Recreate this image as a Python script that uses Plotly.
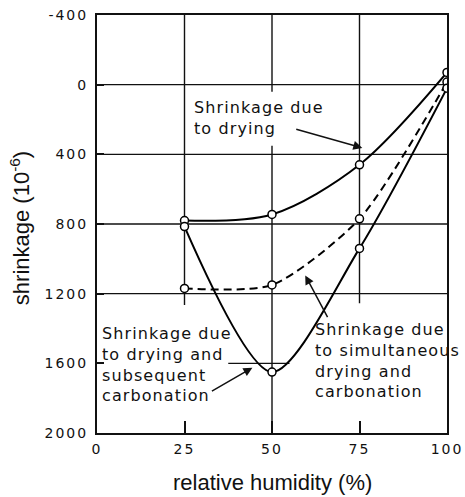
import plotly.graph_objects as go

# ---- data ----
rh = [25, 50, 75, 100]
drying = [780, 745, 460, -70]
simultaneous = [1170, 1150, 770, -15]
subsequent = [815, 1650, 940, 20]

x_ticks = [0, 25, 50, 75, 100]
x_ticktext = ["0", "25", "50", "75", "100"]
y_ticks = [-400, 0, 400, 800, 1200, 1600, 2000]
y_ticktext = ["-400", "0", "400", "800", "1200", "1600", "2000"]

label_drying = "Shrinkage due<br>to drying"
label_subsequent = "Shrinkage due<br>to drying and<br>subsequent<br>carbonation"
label_simultaneous = "Shrinkage due<br>to simultaneous<br>drying and<br>carbonation"

LS = "letter-spacing:1.1px"
TS = "letter-spacing:2px"

def sp(t, style):
    return "<br>".join(f'<span style="{style}">{p}</span>' for p in t.split("<br>"))

fig = go.Figure()

marker = dict(symbol="circle", size=8, color="white", line=dict(color="black", width=1.5))

fig.add_trace(go.Scatter(x=rh, y=drying, mode="lines+markers", line=dict(color="black", width=2, shape="spline", smoothing=0.9), marker=marker, showlegend=False))
fig.add_trace(go.Scatter(x=rh, y=simultaneous, mode="lines+markers", line=dict(color="black", width=2, dash="8px,5px", shape="spline", smoothing=0.7), marker=marker, showlegend=False))
fig.add_trace(go.Scatter(x=rh, y=subsequent, mode="lines+markers", line=dict(color="black", width=2, shape="spline", smoothing=0.8), marker=marker, showlegend=False))

# grid lines (drawn with gaps around the labels, as in the original)
h_grid = [0, 400, 800, 1200]
v_grid = [(25, -400, 1265), (50, -400, 40), (50, 350, 2000), (75, -400, 1255)]
grid_style = dict(color="#111", width=1.4)
shapes = []
for yv in h_grid:
    shapes.append(dict(type="line", xref="x", yref="y", x0=0, x1=100, y0=yv, y1=yv, line=grid_style, layer="below"))
for xv, y0, y1 in v_grid:
    shapes.append(dict(type="line", xref="x", yref="y", x0=xv, x1=xv, y0=y0, y1=y1, line=grid_style, layer="below"))
# short leader line at 1600 near the minimum
shapes.append(dict(type="line", xref="x", yref="y", x0=37.5, x1=55, y0=1600, y1=1600, line=grid_style, layer="below"))

ann_font = dict(family="DejaVu Sans", size=16, color="#111")
annotations = [
    dict(x=27.2, y=65, xref="x", yref="y", text=sp(label_drying, LS), showarrow=False,
         xanchor="left", yanchor="top", align="left", font=ann_font, bgcolor="white"),
    dict(x=0.8, y=1360, xref="x", yref="y", text=sp(label_subsequent, LS), showarrow=False,
         xanchor="left", yanchor="top", align="left", font=ann_font),
    dict(x=61.8, y=1340, xref="x", yref="y", text=sp(label_simultaneous, LS), showarrow=False,
         xanchor="left", yanchor="top", align="left", font=ann_font),
    # arrows
    dict(x=75.8, y=363, ax=56.5, ay=254, xref="x", yref="y", axref="x", ayref="y", text="",
         showarrow=True, arrowhead=2, arrowsize=1.2, arrowwidth=1.5, arrowcolor="#111"),
    dict(x=44.4, y=1625, ax=32.4, ay=1764, xref="x", yref="y", axref="x", ayref="y", text="",
         showarrow=True, arrowhead=2, arrowsize=1.2, arrowwidth=1.5, arrowcolor="#111"),
    dict(x=59.5, y=1095, ax=66.1, ay=1343, xref="x", yref="y", axref="x", ayref="y", text="",
         showarrow=True, arrowhead=2, arrowsize=1.2, arrowwidth=1.5, arrowcolor="#111"),
    # axis titles
    dict(x=0.5, y=-0.083, xref="paper", yref="paper", text="relative humidity (%)", showarrow=False,
         xanchor="center", yanchor="top", font=dict(family="Liberation Sans", size=22, color="#111")),
    dict(x=-0.22, y=0.49, xref="paper", yref="paper", text="shrinkage (10<sup>-6</sup>)", showarrow=False,
         textangle=-90, xanchor="center", yanchor="middle", font=dict(family="Liberation Sans", size=22, color="#111")),
]

fig.update_layout(
    width=465, height=497,
    margin=dict(l=97, r=18, t=15, b=64, autoexpand=False),
    paper_bgcolor="white", plot_bgcolor="white",
    shapes=shapes, annotations=annotations,
    showlegend=False,
)
fig.update_xaxes(range=[0, 100], showgrid=False, zeroline=False, showline=True, mirror=True, automargin=False,
                 linecolor="#111", linewidth=2, ticks="inside", ticklen=12, tickwidth=1.5, tickcolor="#111",
                 tickvals=x_ticks, ticktext=[sp(t, TS) for t in x_ticktext], ticklabelstandoff=2,
                 tickfont=dict(family="DejaVu Sans", size=14, color="#111"))
fig.update_yaxes(range=[2000, -400], showgrid=False, zeroline=False, showline=True, mirror=True, automargin=False,
                 linecolor="#111", linewidth=2, ticks="inside", ticklen=7, tickwidth=1.5, tickcolor="#111",
                 tickvals=y_ticks, ticktext=[sp(t, TS) for t in y_ticktext], ticklabelstandoff=4,
                 tickfont=dict(family="DejaVu Sans", size=14, color="#111"))

fig.write_html("out.html", config={"displayModeBar": False},
               post_script="document.body.style.margin='0';document.body.style.overflow='hidden';")
